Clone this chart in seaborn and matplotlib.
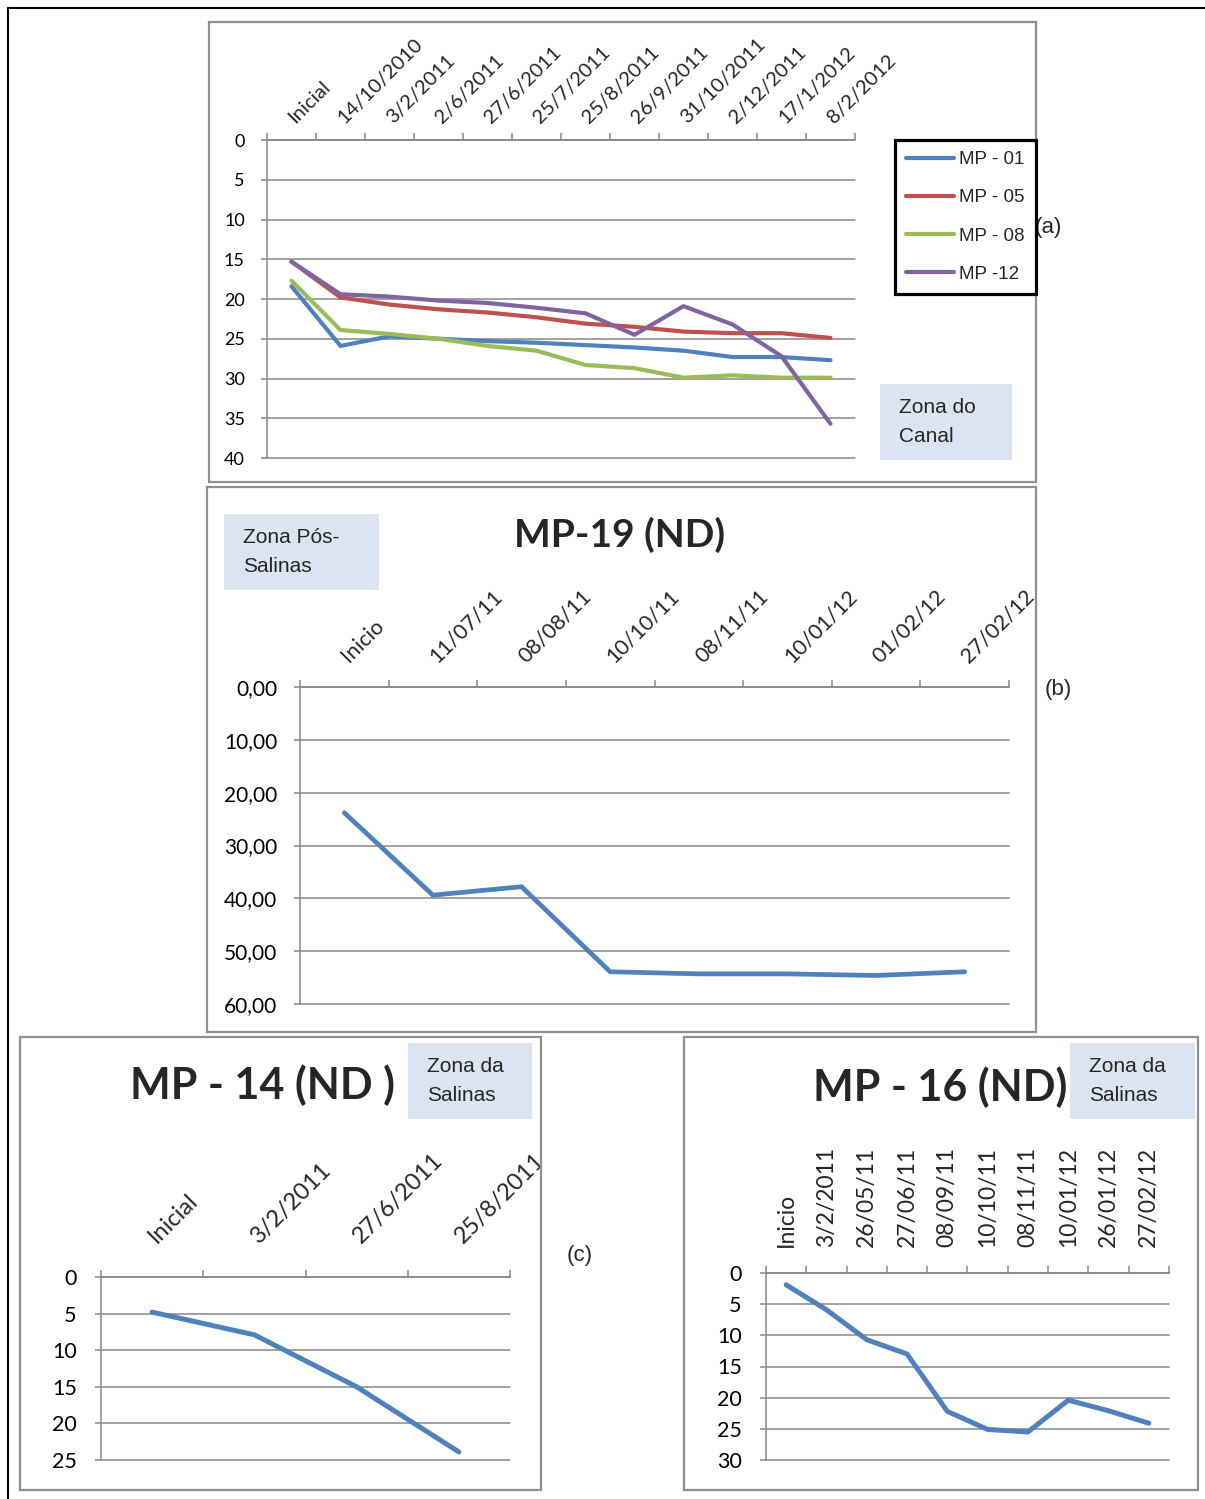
import numpy as np
import pandas as pd
import matplotlib
matplotlib.use("Agg")
import matplotlib.pyplot as plt
import seaborn as sns
from matplotlib.patches import Rectangle
from matplotlib.lines import Line2D
from matplotlib.ticker import FuncFormatter
from matplotlib.transforms import Bbox, TransformedBbox

# ---------------- data ----------------
# (a) Zona do Canal
dates_a = ["Inicial", "14/10/2010", "3/2/2011", "2/6/2011", "27/6/2011", "25/7/2011",
           "25/8/2011", "26/9/2011", "31/10/2011", "2/12/2011", "17/1/2012", "8/2/2012"]
mp01 = [18.4, 25.9, 24.7, 25.0, 25.3, 25.5, 25.8, 26.1, 26.5, 27.3, 27.3, 27.7]
mp05 = [15.3, 19.8, 20.7, 21.3, 21.7, 22.3, 23.1, 23.5, 24.1, 24.3, 24.3, 24.9]
mp08 = [17.7, 23.9, 24.4, 25.0, 25.9, 26.5, 28.3, 28.7, 29.9, 29.6, 29.9, 29.9]
mp12 = [15.3, 19.4, 19.7, 20.2, 20.5, 21.1, 21.8, 24.5, 20.9, 23.2, 27.2, 35.7]
wells_a = ["MP - 01", "MP - 05", "MP - 08", "MP -12"]

# (b) MP-19
dates_b = ["Inicio", "11/07/11", "08/08/11", "10/10/11", "08/11/11", "10/01/12", "01/02/12", "27/02/12"]
mp19 = [23.8, 39.4, 37.8, 53.9, 54.3, 54.3, 54.6, 53.9]

# (c) MP-14
dates_c = ["Inicial", "3/2/2011", "27/6/2011", "25/8/2011"]
mp14 = [4.8, 7.9, 15.0, 23.9]

# (d) MP-16
dates_d = ["Inicio", "3/2/2011", "26/05/11", "27/06/11", "08/09/11", "10/10/11",
           "08/11/11", "10/01/12", "26/01/12", "27/02/12"]
mp16 = [1.9, 5.9, 10.7, 13.0, 22.2, 25.1, 25.5, 20.4, 22.1, 24.1]

# ---------------- style ----------------
sns.set_theme(style="white")
plt.rcParams["font.family"] = ["Lato", "DejaVu Sans"]

BLUE, RED, GREEN, PURPLE = "#4F81BD", "#C0504D", "#9BBB59", "#8064A2"
GRID = "#878787"
BOXFILL = "#DBE5F1"
ARIAL = ["Liberation Sans", "DejaVu Sans"]

W, H = 1205, 1499
fig = plt.figure(figsize=(W / 100, H / 100), dpi=100)
fig.patch.set_facecolor("white")


def rect_px(l, t, r, b):
    return [l / W, 1 - b / H, (r - l) / W, (b - t) / H]


def frame(l, t, r, b, color="#8f8f8f", lw=1.6):
    fig.patches.append(Rectangle((l / W, 1 - b / H), (r - l) / W, (b - t) / H,
                                 transform=fig.transFigure, fill=False,
                                 ec=color, lw=lw, zorder=0))


def zona(l, t, r, b, text, size=15):
    fig.patches.append(Rectangle((l / W, 1 - b / H), (r - l) / W, (b - t) / H,
                                 transform=fig.transFigure, fc=BOXFILL,
                                 ec="none", zorder=1))
    fig.text((l + 19) / W, 1 - (t + b) / 2 / H, text, ha="left", va="center",
             fontsize=size, family=ARIAL, linespacing=1.65, zorder=2)


def style_axis(ax, labels, ymax, ystep, fmt, xfs, yfs, rot, xpad, ypad):
    n = len(labels)
    ax.set_xlim(-0.5, n - 0.5)
    ax.set_ylim(ymax, 0)
    ax.xaxis.tick_top()
    ax.set_xticks(range(n))
    ax.set_xticklabels(labels, rotation=rot, ha="left", va="center",
                       rotation_mode="anchor", fontsize=xfs)
    ax.set_xticks(np.arange(-0.5, n), minor=True)
    ax.tick_params(axis="x", which="major", length=0, pad=xpad,
                   top=True, bottom=False, labeltop=True, labelbottom=False)
    ax.tick_params(axis="x", which="minor", length=5, width=1.1, color=GRID,
                   top=True, bottom=False)
    ax.set_yticks(np.arange(0, ymax + ystep / 2, ystep))
    ax.yaxis.set_major_formatter(FuncFormatter(fmt))
    ax.tick_params(axis="y", which="major", length=4.5, width=1.1, color=GRID,
                   left=True, pad=ypad, labelsize=yfs, labelcolor="black")
    ax.grid(axis="y", color=GRID, lw=1.1)
    ax.grid(axis="x", visible=False)
    for gl in ax.get_ygridlines():
        gl.set_clip_on(False)
    for s in ["right", "bottom"]:
        ax.spines[s].set_visible(False)
    for s in ["top", "left"]:
        ax.spines[s].set_color(GRID)
        ax.spines[s].set_linewidth(1.1)
    ax.set_xlabel("")
    ax.set_ylabel("")
    ax.set_facecolor("none")


int_fmt = lambda v, p: f"{v:.0f}"
dec_fmt = lambda v, p: f"{v:.2f}".replace(".", ",")

# ---------------- outer page border ----------------
fig.add_artist(Line2D([8 / W, 1], [1 - 8 / H, 1 - 8 / H], transform=fig.transFigure,
                      color="black", lw=1.5))
fig.add_artist(Line2D([8 / W, 8 / W], [1 - 8 / H, 0], transform=fig.transFigure,
                      color="black", lw=1.5))

# ---------------- (a) ----------------
frame(209, 22, 1036, 482)
ax_a = fig.add_axes(rect_px(267, 140, 855, 458))
df_a = pd.DataFrame({
    "pos": np.tile(np.arange(len(dates_a)), len(wells_a)),
    "prof": mp01 + mp05 + mp08 + mp12,
    "poco": np.repeat(wells_a, len(dates_a)),
})
sns.lineplot(data=df_a, x="pos", y="prof", hue="poco", hue_order=wells_a,
             palette=[BLUE, RED, GREEN, PURPLE], errorbar=None, lw=3,
             solid_capstyle="round", ax=ax_a)
style_axis(ax_a, dates_a, 40, 5, int_fmt, 14.5, 13, 45, 14, 11.5)
handles, labels = ax_a.get_legend_handles_labels()
ax_a.get_legend().remove()
leg = fig.legend(handles, labels, loc="upper left",
                 bbox_to_anchor=(895 / W, 1 - 140 / H), bbox_transform=fig.transFigure,
                 frameon=True, fancybox=False, edgecolor="black", framealpha=1,
                 borderaxespad=0, borderpad=0.6, handlelength=2.55, handletextpad=0.25,
                 labelspacing=1.12, prop={"family": ARIAL, "size": 13.5})
leg.get_frame().set_linewidth(2.3)
for ln in leg.get_lines():
    ln.set_linewidth(3)
zona(880, 384, 1012, 460, "Zona do\nCanal")
fig.text(1048 / W, 1 - 228 / H, "(a)", ha="center", va="center", fontsize=16, family=ARIAL)

# ---------------- (b) ----------------
frame(207, 487, 1036, 1032)
ax_b = fig.add_axes(rect_px(300, 687, 1009, 1004))
sns.lineplot(x=np.arange(len(dates_b)), y=mp19, color=BLUE, lw=3.4,
             solid_capstyle="round", ax=ax_b)
style_axis(ax_b, dates_b, 60, 10, dec_fmt, 15.5, 15, 45, 20, 12)
zona(224, 514, 379, 590, "Zona Pós-\nSalinas")
fig.text(620 / W, 1 - 535 / H, "MP-19 (ND)", ha="center", va="center",
         fontsize=28, fontweight="bold")
fig.text(1058 / W, 1 - 690 / H, "(b)", ha="center", va="center", fontsize=16, family=ARIAL)

# ---------------- (c) ----------------
frame(20, 1037, 541, 1490)
ax_c = fig.add_axes(rect_px(101, 1277, 510, 1460))
sns.lineplot(x=np.arange(len(dates_c)), y=mp14, color=BLUE, lw=3.6,
             solid_capstyle="round", ax=ax_c)
style_axis(ax_c, dates_c, 25, 5, int_fmt, 17, 15.5, 45, 27, 13)
zona(408, 1043, 532, 1119, "Zona da\nSalinas")
fig.text(262 / W, 1 - 1085 / H, "MP - 14 (ND )", ha="center", va="center",
         fontsize=31, fontweight="bold")
fig.text(580 / W, 1 - 1255 / H, "(c)", ha="center", va="center", fontsize=16, family=ARIAL)

# ---------------- (d) ----------------
frame(684, 1037, 1198, 1490)
ax_d = fig.add_axes(rect_px(766, 1273, 1169, 1460))
sns.lineplot(x=np.arange(len(dates_d)), y=mp16, color=BLUE, lw=3.6,
             solid_capstyle="round", ax=ax_d)
style_axis(ax_d, dates_d, 30, 5, int_fmt, 16.5, 15.5, 90, 19, 13)
zona(1070, 1043, 1195, 1119, "Zona da\nSalinas")
fig.text(940 / W, 1 - 1087 / H, "MP - 16 (ND)", ha="center", va="center",
         fontsize=31, fontweight="bold")

# labels of (c) are cut at the edge of their panel
clip_c = TransformedBbox(Bbox.from_extents(20 / W, 1 - 1490 / H, 541 / W, 1 - 1037 / H),
                         fig.transFigure)
for lab in ax_c.get_xticklabels():
    lab.set_clip_on(True)
    lab.set_clip_box(clip_c)

fig.savefig("out.png", dpi=100, facecolor="white")
